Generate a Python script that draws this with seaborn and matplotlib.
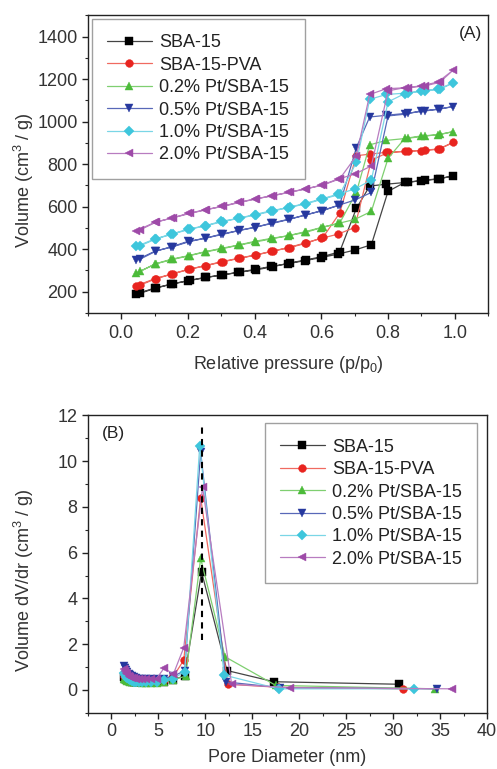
import numpy as np
import pandas as pd
import seaborn as sns
import matplotlib
matplotlib.use("Agg")
import matplotlib.pyplot as plt
from matplotlib.ticker import MultipleLocator

# sample names, colours and markers
names = ["SBA-15", "SBA-15-PVA", "0.2% Pt/SBA-15", "0.5% Pt/SBA-15",
         "1.0% Pt/SBA-15", "2.0% Pt/SBA-15"]
colors = ["#000000", "#e8241f", "#4cbb3a", "#26389e", "#3ec6dc", "#9e4aa8"]
line_colors = ["#444444", "#f06a60", "#7fcf70", "#5868b8", "#7ad6e6", "#b87cc0"]
markers = ["s", "o", "^", "v", "D", "<"]

# (A) N2 isotherms: adsorption branch then desorption branch
p_ads = [0.045, 0.10, 0.15, 0.20, 0.25, 0.30, 0.35, 0.40, 0.45, 0.50,
         0.55, 0.60, 0.65, 0.70, 0.75, 0.80, 0.85, 0.90, 0.95, 0.995]
p_des = [0.955, 0.91, 0.86, 0.795, 0.745, 0.705, 0.655, 0.605, 0.555, 0.505,
         0.455, 0.405, 0.355, 0.305, 0.255, 0.205, 0.155, 0.105, 0.055]

v_ads_sba = [190, 217, 236, 252, 267, 278, 291, 305, 319, 332, 346, 361, 377, 396, 421, 672, 714, 722, 730, 745]
v_des_sba = [732, 725, 715, 706, 697, 592, 388, 366, 350, 335, 318, 303, 292, 280, 267, 253, 237, 218, 192]
v_ads_pva = [228, 261, 283, 305, 322, 341, 357, 372, 390, 407, 429, 451, 471, 502, 819, 855, 860, 864, 870, 902]
v_des_pva = [872, 866, 861, 856, 847, 840, 570, 456, 428, 408, 391, 373, 357, 341, 323, 306, 284, 262, 230]
v_ads_pt02 = [286, 330, 353, 369, 388, 404, 419, 437, 451, 463, 482, 502, 521, 540, 578, 827, 921, 933, 938, 953]
v_des_pt02 = [940, 932, 922, 912, 891, 667, 523, 504, 480, 465, 450, 435, 420, 403, 388, 370, 352, 332, 296]
v_ads_pt05 = [349, 390, 411, 437, 451, 471, 487, 502, 523, 540, 560, 581, 606, 631, 667, 1027, 1035, 1051, 1058, 1071]
v_des_pt05 = [1060, 1050, 1040, 1030, 1022, 878, 608, 582, 562, 541, 522, 505, 489, 470, 453, 436, 412, 392, 352]
v_ads_pt10 = [413, 448, 471, 494, 510, 531, 545, 563, 581, 596, 615, 636, 659, 683, 725, 1093, 1132, 1145, 1153, 1182]
v_des_pt10 = [1152, 1145, 1135, 1128, 1105, 808, 658, 636, 614, 597, 580, 562, 546, 530, 511, 494, 472, 449, 415]
v_ads_pt20 = [487, 526, 546, 568, 585, 601, 620, 636, 651, 667, 683, 701, 730, 753, 792, 1145, 1160, 1168, 1187, 1242]
v_des_pt20 = [1185, 1168, 1160, 1155, 1128, 839, 731, 702, 684, 668, 652, 637, 620, 602, 586, 568, 548, 528, 490]

iso_ads = [v_ads_sba, v_ads_pva, v_ads_pt02, v_ads_pt05, v_ads_pt10, v_ads_pt20]
iso_des = [v_des_sba, v_des_pva, v_des_pt02, v_des_pt05, v_des_pt10, v_des_pt20]

# (B) pore size distributions
d_low = [1.35, 1.45, 1.55, 1.7, 1.85, 2.0, 2.2, 2.4, 2.65, 2.95, 3.3, 3.7, 4.2, 4.8, 5.6, 6.6]
d_high_sba = [7.8, 9.6, 12.3, 17.3, 30.6]
d_high_pva = [7.7, 9.5, 12.4, 17.7, 31.1]
d_high_pt02 = [7.9, 9.5, 12.1, 17.5, 34.5]
d_high_pt05 = [7.8, 9.5, 12.2, 18.0, 34.7]
d_high_pt10 = [7.8, 9.4, 12.0, 17.8, 32.2]
d_high_pt20 = [7.7, 9.7, 12.8, 19.0, 36.3]

psd_sba = [0.55, 0.50, 0.47, 0.43, 0.40, 0.38, 0.36, 0.35, 0.34, 0.34, 0.33, 0.33, 0.33, 0.33, 0.35, 0.45,
           0.62, 5.15, 0.85, 0.36, 0.25]
psd_pva = [0.62, 0.57, 0.53, 0.49, 0.46, 0.44, 0.42, 0.40, 0.39, 0.38, 0.37, 0.37, 0.37, 0.38, 0.42, 0.60,
           1.30, 8.40, 0.25, 0.12, 0.05]
psd_pt02 = [0.50, 0.46, 0.43, 0.40, 0.38, 0.36, 0.35, 0.34, 0.33, 0.33, 0.32, 0.32, 0.32, 0.32, 0.34, 0.45,
            0.60, 5.75, 1.45, 0.20, 0.05]
psd_pt05 = [1.05, 0.95, 0.87, 0.78, 0.71, 0.65, 0.59, 0.55, 0.52, 0.50, 0.48, 0.47, 0.47, 0.47, 0.50, 0.60,
            0.85, 10.40, 0.35, 0.10, 0.05]
psd_pt10 = [0.72, 0.64, 0.58, 0.52, 0.47, 0.43, 0.40, 0.37, 0.35, 0.34, 0.33, 0.33, 0.33, 0.34, 0.45, 0.50,
            0.80, 10.65, 0.65, 0.05, 0.05]
psd_pt20 = [0.90, 0.82, 0.75, 0.68, 0.62, 0.57, 0.53, 0.51, 0.49, 0.48, 0.48, 0.48, 0.49, 0.50, 0.95, 0.70,
            1.85, 8.85, 0.25, 0.10, 0.05]

d_high = [d_high_sba, d_high_pva, d_high_pt02, d_high_pt05, d_high_pt10, d_high_pt20]
psd = [psd_sba, psd_pva, psd_pt02, psd_pt05, psd_pt10, psd_pt20]

peak_d = 9.6
peak_span = [2.2, 11.5]

sns.set_style("ticks")
plt.rcParams["font.family"] = ["Liberation Sans", "DejaVu Sans"]
plt.rcParams["mathtext.fontset"] = "custom"
plt.rcParams["mathtext.rm"] = "Liberation Sans"
plt.rcParams["mathtext.it"] = "Liberation Sans"
plt.rcParams["axes.edgecolor"] = "#222222"
plt.rcParams["axes.linewidth"] = 1.0

fig = plt.figure(figsize=(4.97, 7.69), dpi=100)
ax1 = fig.add_axes([0.177, 0.593, 0.805, 0.387])
ax2 = fig.add_axes([0.177, 0.073, 0.803, 0.387])


def style_axis(ax, xpad):
    ax.tick_params(axis="both", which="major", direction="out", length=4, width=1,
                   labelsize=13, colors="#222222", labelcolor="#333333", top=False, right=False)
    ax.tick_params(axis="x", which="major", pad=xpad)
    ax.tick_params(axis="both", which="minor", direction="out", length=2.5, width=0.8,
                   top=False, right=False)
    for s in ax.spines.values():
        s.set_visible(True)
    ax.yaxis.set_label_coords(-0.13, 0.445)


def draw_series(ax, df, xcol, i):
    ms = 5.6 if markers[i] != "D" else 4.8
    sns.lineplot(data=df, x=xcol, y="v", ax=ax, sort=False, estimator=None,
                 color=line_colors[i], marker=markers[i], markersize=ms,
                 markerfacecolor=colors[i], markeredgewidth=0.3, markeredgecolor=colors[i],
                 linewidth=0.9, label=names[i])


def add_legend(ax, loc, anchor):
    leg = ax.legend(loc=loc, bbox_to_anchor=anchor, fontsize=13, frameon=True,
                    fancybox=False, edgecolor="#888888", numpoints=1, handlelength=2.5,
                    handletextpad=0.4, labelspacing=0.3, borderpad=0.85, borderaxespad=0.2)
    leg.get_frame().set_linewidth(1.0)
    for t in leg.get_texts():
        t.set_color("#222222")


# panel A
for i in range(len(names)):
    df = pd.DataFrame({"p": p_ads + p_des, "v": iso_ads[i] + iso_des[i]})
    draw_series(ax1, df, "p", i)

ax1.set_xlim(-0.1, 1.1)
ax1.set_ylim(100, 1500)
ax1.xaxis.set_major_locator(MultipleLocator(0.2))
ax1.xaxis.set_minor_locator(MultipleLocator(0.1))
ax1.yaxis.set_minor_locator(MultipleLocator(100))
ax1.set_yticks([200, 400, 600, 800, 1000, 1200, 1400])
ax1.set_xlabel("Relative pressure (p/p$_0$)", fontsize=13, color="#333333", labelpad=8)
ax1.set_ylabel("Volume (cm$^3$ / g)", fontsize=13, color="#333333")
ax1.text(0.985, 0.965, "(A)", transform=ax1.transAxes, ha="right", va="top", fontsize=12.5,
         color="#222222")
style_axis(ax1, 5)
add_legend(ax1, "upper left", (0.0, 1.0))

# panel B
for i in range(len(names)):
    df = pd.DataFrame({"d": d_low + d_high[i], "v": psd[i]})
    draw_series(ax2, df, "d", i)

ax2.plot([peak_d, peak_d], peak_span, color="black", linestyle=(0, (3, 2.5)), linewidth=1.5)
ax2.set_xlim(-2.5, 40)
ax2.set_ylim(-1, 12)
ax2.xaxis.set_major_locator(MultipleLocator(5))
ax2.xaxis.set_minor_locator(MultipleLocator(2.5))
ax2.yaxis.set_major_locator(MultipleLocator(2))
ax2.yaxis.set_minor_locator(MultipleLocator(1))
ax2.set_xlabel("Pore Diameter (nm)", fontsize=13, color="#333333", labelpad=6)
ax2.set_ylabel("Volume dV/dr (cm$^3$ / g)", fontsize=13, color="#333333")
ax2.text(0.035, 0.965, "(B)", transform=ax2.transAxes, ha="left", va="top", fontsize=12.5,
         color="#222222")
style_axis(ax2, 3.5)
add_legend(ax2, "upper right", (0.985, 0.985))

fig.savefig("out.png", dpi=100, facecolor="white")
